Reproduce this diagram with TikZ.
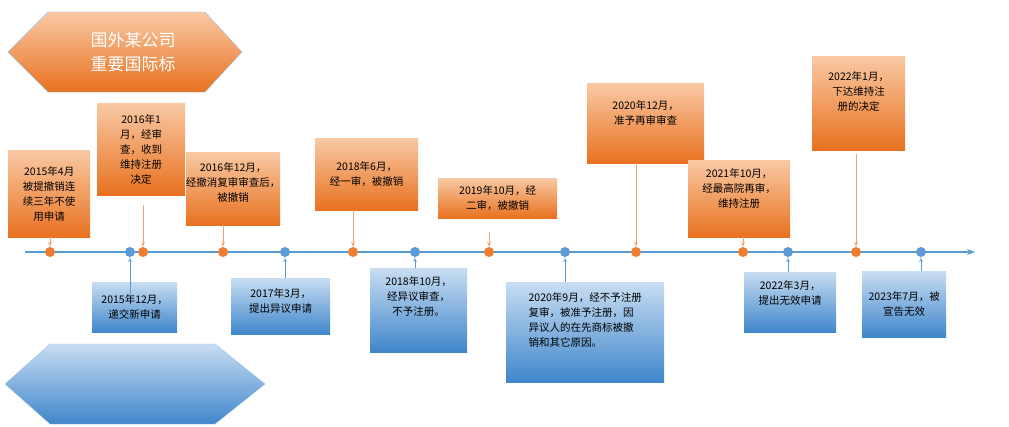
\documentclass[tikz,border=0pt]{standalone}
\usepackage{fontspec}
\setmainfont{Liberation Serif}
\newfontfamily\cjk{Noto Sans CJK SC}
\usetikzlibrary{arrows.meta}
\definecolor{orA}{HTML}{F9C9A4}
\definecolor{orB}{HTML}{E8711F}
\definecolor{blA}{HTML}{C8DDF2}
\definecolor{blB}{HTML}{3F86CB}
\definecolor{axis}{HTML}{5B9BD5}
\definecolor{dotO}{HTML}{ED7D31}
\tikzset{
 obox/.style={rectangle,top color=orA,bottom color=orB,anchor=north west},
 bbox/.style={rectangle,top color=blA,bottom color=blB,anchor=north west},
 txt/.style={font=\cjk\fontsize{10.5}{15}\selectfont,align=center},
 odot/.style={circle,fill=dotO,inner sep=0pt,minimum size=10pt},
 bdot/.style={circle,fill=axis,inner sep=0pt,minimum size=10pt},
 oarr/.style={draw=dotO!70,-{Stealth[length=5pt]}},
 barr/.style={draw=axis,-{Stealth[length=5pt,open]}},
}
\newcommand{\bx}[6]{\node[#1,minimum width=#4pt,minimum height=#5pt] (#6) at (#2,#3) {};}
\begin{document}
\begin{tikzpicture}[x=1pt,y=-1pt]
\useasboundingbox (0,0) rectangle (1009,426);
% hexagons
\path[top color=orA,bottom color=orB,draw=axis!60] (8,52)--(48,12)--(205,12)--(242,52)--(205,92)--(48,92)--cycle;
\node[text=white,font=\cjk\fontsize{17}{24}\selectfont,align=center] (title) at (133,52) {国外某公司\\重要国际标};
\path[top color=blA,bottom color=blB,draw=axis!60] (5,384)--(50,344)--(215,344)--(265,384)--(215,424)--(50,424)--cycle;
% axis
\coordinate (s) at (25,252); \coordinate (e) at (975,252);
\draw[axis,line width=2.5pt,-{Stealth[length=8pt]}] (s)--(e);
% dots
\foreach \n/\x in {o1/50,o2/143,o3/223,o4/353,o5/489,o6/636,o7/743,o8/856}{\node[odot] (\n) at (\x,252) {};}
\foreach \n/\x in {b1/130,b2/285,b3/415,b4/565,b5/788,b6/921}{\node[bdot] (\n) at (\x,252) {};}
% orange boxes
\bx{obox}{8}{150}{82}{87}{A1}
\node[txt] at (A1) {2015年4月\\被提撤销连\\续三年不使\\用申请};
\bx{obox}{97}{103}{88}{92}{A2}
\node[txt] at (A2) {2016年1\\月，经审\\查，收到\\维持注册\\决定};
\bx{obox}{186}{152}{94}{73}{A3}
\node[txt] at ([yshift=6pt]A3) {2016年12月，\\经撤消复审审查后，\\被撤销};
\bx{obox}{315}{138}{103}{72}{A4}
\node[txt] at (A4) {2018年6月，\\经一审，被撤销};
\bx{obox}{438}{178}{119}{40}{A5}
\node[txt] at (A5) {2019年10月，经\\二审，被撤销};
\bx{obox}{587}{83}{117}{80}{A6}
\node[txt] at ([yshift=10pt]A6) {2020年12月，\\准予再审审查};
\bx{obox}{688}{160}{102}{77}{A7}
\node[txt] at ([yshift=10pt]A7) {2021年10月，\\经最高院再审，\\维持注册};
\bx{obox}{812}{56}{93}{94}{A8}
\node[txt] at ([yshift=12pt]A8) {2022年1月，\\下达维持注\\册的决定};
% blue boxes
\bx{bbox}{92}{282}{85}{50}{B1}
\node[txt] at (B1) {2015年12月，\\递交新申请};
\bx{bbox}{231}{278}{99}{56}{B2}
\node[txt] at ([yshift=5pt]B2) {2017年3月，\\提出异议申请};
\bx{bbox}{370}{268}{97}{84}{B3}
\node[txt] at ([yshift=14pt]B3) {2018年10月，\\经异议审查，\\不予注册。};
\bx{bbox}{506}{282}{158}{100}{B4}
\node[txt,align=left] at ([yshift=12pt]B4) {2020年9月，经不予注册\\复审，被准予注册，因\\异议人的在先商标被撤\\销和其它原因。};
\bx{bbox}{744}{272}{92}{60}{B5}
\node[txt] at ([yshift=9pt]B5) {2022年3月，\\提出无效申请};
\bx{bbox}{862}{271}{84}{66}{B6}
\node[txt] at (B6) {2023年7月，被\\宣告无效};
% connectors
\draw[oarr] (A1.south -| o1)--(o1);
\draw[oarr] ([yshift=-10pt]A2.south -| o2)--(o2);
\draw[oarr] (A3.south -| o3)--(o3);
\draw[oarr] (A4.south -| o4)--(o4);
\draw[oarr] ([yshift=-14pt]A5.south -| o5)--(o5);
\draw[oarr] (A6.south -| o6)--(o6);
\draw[oarr] (A7.south -| o7)--(o7);
\draw[oarr] ([yshift=-4pt]A8.south -| o8)--(o8);
\draw[barr] ([yshift=-14pt]B1.north -| b1)--(b1);
\draw[barr] (B2.north -| b2)--(b2);
\draw[barr] (B3.north -| b3)--(b3);
\draw[barr] (B4.north -| b4)--(b4);
\draw[barr] (B5.north -| b5)--(b5);
\draw[barr] (B6.north -| b6)--(b6);
\end{tikzpicture}
\end{document}
